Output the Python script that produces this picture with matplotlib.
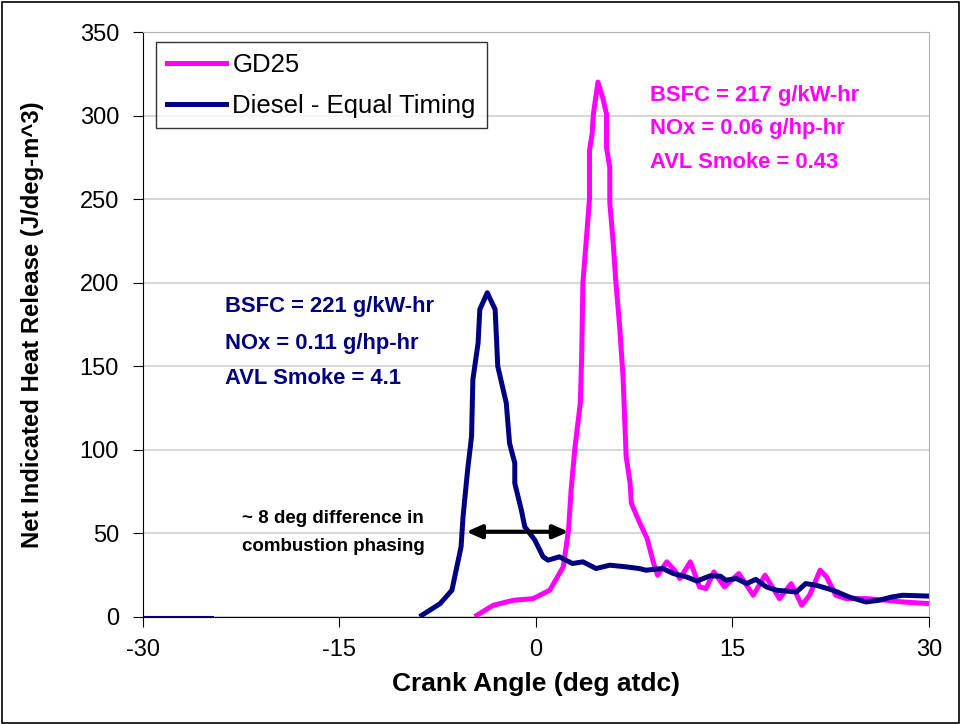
import matplotlib
matplotlib.use("Agg")
import matplotlib.pyplot as plt
from matplotlib.patches import Rectangle

plt.rcParams['font.family'] = ['Liberation Sans', 'DejaVu Sans']
plt.rcParams['axes.unicode_minus'] = False

# crank angle (deg atdc) and net heat release (J/deg-m^3)
diesel_x = [-8.7, -7.3, -6.4, -5.7, -5.55, -5.2, -4.9, -4.8, -4.4, -4.27, -3.7,
            -3.1, -2.9, -2.25, -2.0, -1.6, -1.6, -1.1, -0.84, -0.07, 0.56, 0.94,
            1.8, 2.8, 3.6, 4.6, 5.65, 6.9, 7.9, 8.4, 9.7, 10.5, 11.5, 12.3, 13.3,
            14.1, 14.5, 15.3, 16.1, 16.8, 17.6, 18.4, 19.9, 20.6, 21.4, 22.7,
            23.9, 25.2, 26.2, 27.2, 28.0, 30.0]
diesel_y = [1, 8, 16, 42, 60, 88, 108, 142, 164, 184, 194,
            184, 150, 128, 104, 92, 80, 64, 54, 46, 36, 34,
            36, 32, 33, 29, 31, 30, 29, 28, 29, 26, 24, 21.5, 24.6,
            24.4, 22, 23, 20, 22.5, 18, 16, 15, 20, 19, 16,
            12, 9, 10, 12, 13, 12.5]
diesel_pre_x = [-30, -24.6]
diesel_pre_y = [0, 0]

gd25_x = [-4.5, -3.25, -1.7, -0.2, 1.07, 2.1, 2.5, 2.7, 3.0, 3.4, 3.5, 3.6,
          4.1, 4.1, 4.3, 4.4, 4.75, 5.1, 5.4, 5.4, 5.65, 5.65, 5.9, 6.1,
          6.4, 6.66, 6.9, 7.2, 7.3, 7.9, 8.5, 9.0, 9.3, 10.0, 10.6, 11.0,
          11.8, 12.5, 13.0, 13.6, 14.4, 15.5, 16.6, 17.5, 18.6, 19.5, 20.3,
          20.9, 21.7, 22.2, 22.9, 23.7, 25.2, 26.8, 28.0, 30.0]
gd25_y = [1, 7, 10, 11, 16, 30, 52, 76, 102, 128, 154, 200,
          250, 279, 289, 301, 320, 311, 301, 281, 269, 248, 225, 202,
          174, 144, 96, 80, 68, 57, 47, 32, 25, 33, 28, 23,
          33, 18, 17, 27, 18, 26, 13, 25, 11, 20, 7,
          13, 28, 24, 13, 11, 11, 10, 9, 8]

gd25_notes = ['BSFC = 217 g/kW-hr', 'NOx = 0.06 g/hp-hr', 'AVL Smoke = 0.43']
gd25_note_y = [312, 292.5, 272]
diesel_notes = ['BSFC = 221 g/kW-hr', 'NOx = 0.11 g/hp-hr', 'AVL Smoke = 4.1']
diesel_note_y = [186, 163.5, 142.5]
phase_notes = ['~ 8 deg difference in', 'combustion phasing']
phase_note_y = [59, 42]

magenta = '#ff00ff'
navy = '#000080'

fig = plt.figure(figsize=(9.61, 7.24), dpi=100)
fig.patch.set_facecolor('white')
fig.patches.append(Rectangle((0.002, 0.002), 0.996, 0.995, transform=fig.transFigure,
                             fill=False, edgecolor='black', linewidth=1.2))

ax = fig.add_axes([0.1485, 0.1478, 0.818, 0.808])
ax.set_xlim(-30, 30)
ax.set_ylim(0, 350)
ax.set_xticks([-30, -15, 0, 15, 30])
ax.set_yticks(range(0, 351, 50))
ax.yaxis.grid(True, color='#d0d0d0', linewidth=1.2)
ax.set_axisbelow(True)

ax.spines['top'].set_color('#b0b0b0')
ax.spines['right'].set_color('#b0b0b0')
ax.spines['left'].set_color('black')
ax.spines['bottom'].set_color('black')
ax.tick_params(direction='out', length=7, labelsize=17)
ax.tick_params(axis='y', pad=10)
ax.tick_params(axis='x', pad=9)

ax.plot(diesel_pre_x, diesel_pre_y, color=navy, linewidth=1.5)
ax.plot(gd25_x, gd25_y, color=magenta, linewidth=3.6, label='GD25',
        solid_joinstyle='round')
ax.plot(diesel_x, diesel_y, color=navy, linewidth=3.6, label='Diesel - Equal Timing',
        solid_joinstyle='round')

ax.set_xlabel('Crank Angle (deg atdc)', fontsize=19, fontweight='bold', labelpad=8)
ax.set_ylabel('Net Indicated Heat Release (J/deg-m^3)', fontsize=17.2, fontweight='bold',
              labelpad=26)

leg = ax.legend(loc='upper left', bbox_to_anchor=(0.017, 0.983), fontsize=18.5,
                frameon=True, fancybox=False, edgecolor='black', handlelength=2.3,
                borderpad=0.42, labelspacing=0.66, handletextpad=0.25,
                borderaxespad=0.0)
leg.get_frame().set_linewidth(1.0)

for label, y in zip(gd25_notes, gd25_note_y):
    ax.text(8.7, y, label, color=magenta, fontsize=15.8, fontweight='bold', va='center')
for label, y in zip(diesel_notes, diesel_note_y):
    ax.text(-23.7, y, label, color=navy, fontsize=15.8, fontweight='bold', va='center')
for label, y in zip(phase_notes, phase_note_y):
    ax.text(-22.4, y, label, color='black', fontsize=13.5, fontweight='bold', va='center')

ax.annotate('', xy=(2.5, 51), xytext=(-5.3, 51),
            arrowprops=dict(arrowstyle='<|-|>,head_length=0.9,head_width=0.4',
                            color='black', linewidth=3, shrinkA=0, shrinkB=0))

fig.savefig('out.png', dpi=100, facecolor='white')
